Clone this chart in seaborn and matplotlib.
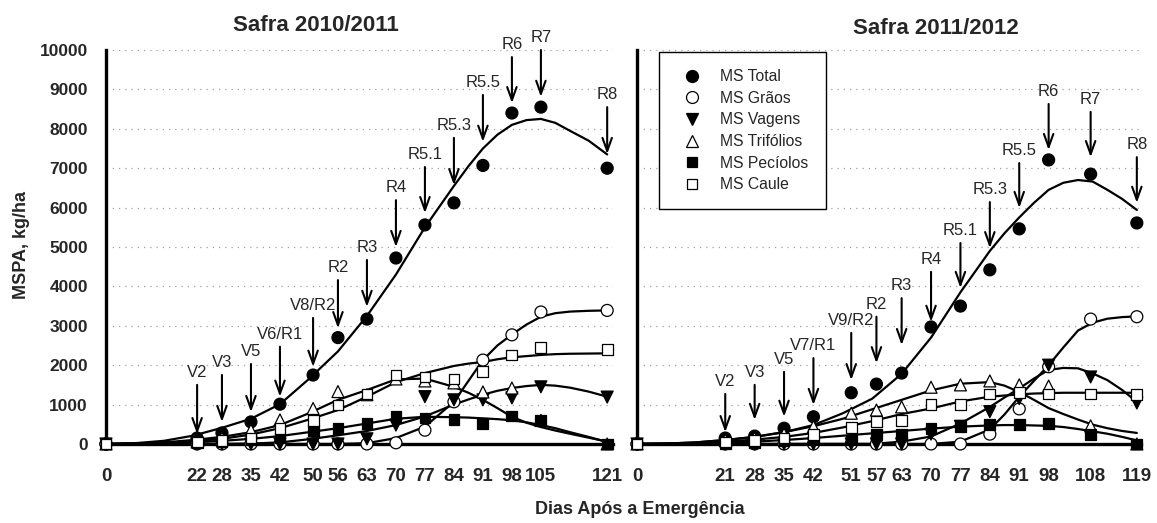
import matplotlib
matplotlib.use("Agg")
import matplotlib.pyplot as plt
from matplotlib.lines import Line2D
import pandas as pd
import seaborn as sns

SERIES = ["MS Total", "MS Grãos", "MS Vagens", "MS Trifólios", "MS Pecíolos", "MS Caule"]

# ---- Safra 2010/2011: observed points ----
dias_1011 = [0, 22, 28, 35, 42, 50, 56, 63, 70, 77, 84, 91, 98, 105, 121]
total_1011 = [0, 150, 280, 560, 1010, 1750, 2700, 3170, 4720, 5560, 6120, 7070, 8400, 8550, 7000]
graos_1011 = [0, 0, 0, 0, 0, 0, 0, 0, 30, 350, 1070, 2130, 2770, 3350, 3390]
vagens_1011 = [0, 0, 0, 0, 0, 0, 0, 130, 480, 1200, 1120, 1120, 1170, 1450, 1190]
trifolios_1011 = [0, 50, 150, 350, 610, 900, 1330, 1250, 1650, 1600, 1550, 1320, 1420, 600, 0]
peciolos_1011 = [0, 30, 50, 100, 150, 350, 400, 530, 690, 660, 630, 530, 710, 590, 0]
caule_1011 = [0, 50, 80, 150, 400, 600, 990, 1270, 1750, 1700, 1650, 1830, 2260, 2440, 2400]

# ---- Safra 2010/2011: fitted curves ----
curva_dias_1011 = [0, 7, 14, 21, 28, 35, 42, 49, 56, 63, 70, 77, 84, 87.5, 91, 94.5,
                   98, 101.5, 105, 108.5, 112, 116.5, 121]
c_total_1011 = [0, 20, 80, 210, 410, 640, 1010, 1650, 2350, 3250, 4300, 5500, 6550, 7050,
                7500, 7850, 8100, 8220, 8250, 8150, 7950, 7700, 7350]
c_graos_1011 = [0, 0, 0, 0, 0, 0, 0, 0, 0, 20, 150, 440, 1070, 1600, 2130, 2500, 2780,
                3030, 3230, 3320, 3360, 3380, 3390]
c_vagens_1011 = [0, 0, 0, 0, 0, 10, 40, 120, 220, 330, 480, 700, 1000, 1130, 1250, 1350,
                 1420, 1470, 1500, 1480, 1430, 1330, 1200]
c_trifolios_1011 = [0, 10, 40, 100, 180, 300, 480, 780, 1120, 1370, 1640, 1660, 1450, 1300,
                    1120, 910, 690, 540, 430, 340, 260, 160, 60]
c_peciolos_1011 = [0, 5, 15, 40, 80, 130, 200, 300, 400, 520, 640, 690, 680, 670, 650, 630,
                   600, 550, 480, 400, 300, 180, 50]
c_caule_1011 = [0, 10, 30, 70, 130, 240, 400, 620, 860, 1200, 1570, 1800, 1980, 2040, 2080,
                2150, 2200, 2230, 2260, 2280, 2290, 2295, 2300]

# ---- Safra 2011/2012: observed points ----
dias_1112 = [0, 21, 28, 35, 42, 51, 57, 63, 70, 77, 84, 91, 98, 108, 119]
total_1112 = [0, 150, 200, 400, 690, 1300, 1520, 1800, 2970, 3500, 4420, 5460, 7210, 6850, 5610]
graos_1112 = [0, 0, 0, 0, 0, 0, 0, 0, 0, 0, 250, 890, 1960, 3170, 3230]
vagens_1112 = [0, 0, 0, 0, 0, 0, 0, 0, 250, 450, 820, 1150, 2000, 1700, 1040]
trifolios_1112 = [0, 100, 150, 250, 440, 780, 860, 940, 1440, 1500, 1600, 1500, 1470, 460, 0]
peciolos_1112 = [0, 20, 40, 80, 100, 100, 230, 230, 400, 440, 500, 500, 530, 230, 0]
caule_1112 = [0, 50, 80, 150, 250, 410, 560, 600, 1010, 1010, 1270, 1300, 1270, 1270, 1260]

# ---- Safra 2011/2012: fitted curves ----
curva_dias_1112 = [0, 7, 14, 21, 28, 35, 42, 49, 56, 63, 70, 77, 84, 87.5, 91, 94.5,
                   98, 101.5, 105, 108.5, 112, 115.5, 119]
c_total_1112 = [0, 10, 40, 100, 180, 300, 480, 780, 1150, 1780, 2700, 3850, 4900, 5350,
                5750, 6120, 6450, 6630, 6700, 6660, 6450, 6220, 5940]
c_graos_1112 = [0, 0, 0, 0, 0, 0, 0, 0, 0, 0, 0, 60, 370, 750, 1200, 1600, 2000, 2450,
                2880, 3080, 3180, 3220, 3240]
c_vagens_1112 = [0, 0, 0, 0, 0, 0, 0, 0, 0, 60, 190, 520, 940, 1180, 1410, 1660, 1880,
                 1930, 1920, 1790, 1620, 1370, 1070]
c_trifolios_1112 = [0, 10, 40, 100, 180, 300, 450, 640, 880, 1120, 1360, 1530, 1570, 1480,
                    1320, 1120, 910, 760, 620, 490, 400, 330, 280]
c_peciolos_1112 = [0, 5, 15, 30, 60, 100, 150, 210, 270, 330, 390, 440, 470, 480, 480, 470,
                   460, 430, 380, 320, 260, 180, 90]
c_caule_1112 = [0, 5, 20, 60, 110, 180, 280, 420, 580, 760, 900, 1080, 1200, 1230, 1260,
                1280, 1290, 1300, 1300, 1300, 1300, 1300, 1300]

# ---- phenological stage arrows ----
estadios_1011 = ["V2", "V3", "V5", "V6/R1", "V8/R2", "R2", "R3", "R4", "R5.1", "R5.3", "R5.5", "R6", "R7", "R8"]
estadios_dias_1011 = [22, 28, 35, 42, 50, 56, 63, 70, 77, 84, 91, 98, 105, 121]
seta_topo_1011 = [1500, 1750, 2030, 2470, 3200, 4160, 4670, 6190, 7030, 7770, 8860, 9820, 10000, 8550]
seta_ponta_1011 = [250, 560, 810, 1200, 1960, 2940, 3480, 5000, 5860, 6570, 7670, 8650, 8810, 7360]

estadios_1112 = ["V2", "V3", "V5", "V7/R1", "V9/R2", "R2", "R3", "R4", "R5.1", "R5.3", "R5.5", "R6", "R7", "R8"]
estadios_dias_1112 = [21, 28, 35, 42, 51, 57, 63, 70, 77, 84, 91, 98, 108, 119]
seta_topo_1112 = [1270, 1500, 1830, 2180, 2820, 3230, 3700, 4370, 5100, 6140, 7130, 8630, 8430, 7280]
seta_ponta_1112 = [300, 610, 690, 990, 1620, 2050, 2510, 3100, 3960, 4970, 5990, 7460, 7280, 6120]

MARKERS = {"MS Total": "o", "MS Grãos": "o", "MS Vagens": "v",
           "MS Trifólios": "^", "MS Pecíolos": "s", "MS Caule": "s"}
FACE = {"MS Total": "black", "MS Grãos": "white", "MS Vagens": "black",
        "MS Trifólios": "white", "MS Pecíolos": "black", "MS Caule": "white"}
MSIZE = {"MS Total": 8.6, "MS Grãos": 8.6, "MS Vagens": 8.6,
         "MS Trifólios": 8.6, "MS Pecíolos": 7.8, "MS Caule": 7.8}


def long_frame(dias, series_values):
    rows = []
    for name, vals in zip(SERIES, series_values):
        for d, v in zip(dias, vals):
            rows.append({"dia": d, "valor": v, "serie": name})
    return pd.DataFrame(rows)


def draw_panel(ax, pts, curves, xticks, xmax, estadios, e_dias, topo, ponta, show_ylabels):
    ax.grid(axis="y", color="#a0a0a0", linestyle=(0, (1, 4)), linewidth=0.9)
    ax.grid(axis="x", visible=False)
    ax.set_axisbelow(True)

    sns.lineplot(data=curves, x="dia", y="valor", units="serie", estimator=None,
                 color="black", linewidth=1.6, legend=False, ax=ax, zorder=2)
    sns.scatterplot(data=pts, x="dia", y="valor", hue="serie", style="serie", size="serie",
                    palette=FACE, markers=MARKERS, sizes={k: v ** 2 for k, v in MSIZE.items()},
                    edgecolor="black", linewidth=0.9, legend=False, ax=ax,
                    zorder=3, clip_on=False)

    for lab, d, top, tip in zip(estadios, e_dias, topo, ponta):
        ax.annotate("", xy=(d, tip), xytext=(d, top),
                    arrowprops=dict(arrowstyle="->,head_length=0.47,head_width=0.17",
                                    color="black", lw=1.5, shrinkA=0, shrinkB=0,
                                    mutation_scale=20))
        ax.annotate(lab, xy=(d, top), xytext=(0, 9), textcoords="offset points",
                    ha="center", va="center", fontsize=12, annotation_clip=False)

    ax.set_xlim(0, xmax)
    ax.set_ylim(0, 10000)
    ax.set_xticks(xticks)
    ax.set_yticks(range(0, 10001, 1000))
    ax.set_xlabel("")
    ax.set_ylabel("")
    sns.despine(ax=ax)
    for side in ("left", "bottom"):
        ax.spines[side].set_linewidth(2.4)
        ax.spines[side].set_color("black")
    ax.tick_params(axis="both", direction="inout", length=10, width=1.8, color="black")
    ax.tick_params(axis="x", pad=12, labelsize=13.5)
    ax.tick_params(axis="y", pad=8, labelsize=12.5, labelleft=show_ylabels)
    for t in ax.get_xticklabels() + ax.get_yticklabels():
        t.set_fontweight("bold")


sns.set_style("white")
plt.rcParams["font.family"] = ["Liberation Sans", "DejaVu Sans"]

fig = plt.figure(figsize=(11.57, 5.23), dpi=100)
ax1 = fig.add_axes([0.0916, 0.1511, 0.4382, 0.7533])
ax2 = fig.add_axes([0.5506, 0.1511, 0.4356, 0.7533])

pts_1011 = long_frame(dias_1011, [total_1011, graos_1011, vagens_1011,
                                  trifolios_1011, peciolos_1011, caule_1011])
cur_1011 = long_frame(curva_dias_1011, [c_total_1011, c_graos_1011, c_vagens_1011,
                                        c_trifolios_1011, c_peciolos_1011, c_caule_1011])
pts_1112 = long_frame(dias_1112, [total_1112, graos_1112, vagens_1112,
                                  trifolios_1112, peciolos_1112, caule_1112])
cur_1112 = long_frame(curva_dias_1112, [c_total_1112, c_graos_1112, c_vagens_1112,
                                        c_trifolios_1112, c_peciolos_1112, c_caule_1112])

draw_panel(ax1, pts_1011, cur_1011, dias_1011, 122.4, estadios_1011, estadios_dias_1011,
           seta_topo_1011, seta_ponta_1011, True)
draw_panel(ax2, pts_1112, cur_1112, dias_1112, 120.0, estadios_1112, estadios_dias_1112,
           seta_topo_1112, seta_ponta_1112, False)

handles = [Line2D([], [], ls="", marker=MARKERS[s], markersize=MSIZE[s],
                  markerfacecolor=FACE[s], markeredgecolor="black", markeredgewidth=0.9)
           for s in SERIES]
leg = ax2.legend(handles, SERIES, loc="upper left", bbox_to_anchor=(0.044, 0.995),
                 frameon=True, fancybox=False, edgecolor="black", framealpha=1,
                 fontsize=11.3, labelspacing=0.42, borderpad=1.1, handletextpad=0.8,
                 handlelength=2.0, borderaxespad=0)
leg.get_frame().set_linewidth(1.0)

fig.text(0.273, 0.952, "Safra 2010/2011", ha="center", va="center",
         fontsize=16, fontweight="bold")
fig.text(0.809, 0.946, "Safra 2011/2012", ha="center", va="center",
         fontsize=16, fontweight="bold")
fig.text(0.019, 0.532, "MSPA, kg/ha", ha="center", va="center", rotation=90,
         fontsize=13, fontweight="bold")
fig.text(0.553, 0.025, "Dias Após a Emergência", ha="center", va="center",
         fontsize=13, fontweight="bold")

fig.savefig("out.png", dpi=100)
